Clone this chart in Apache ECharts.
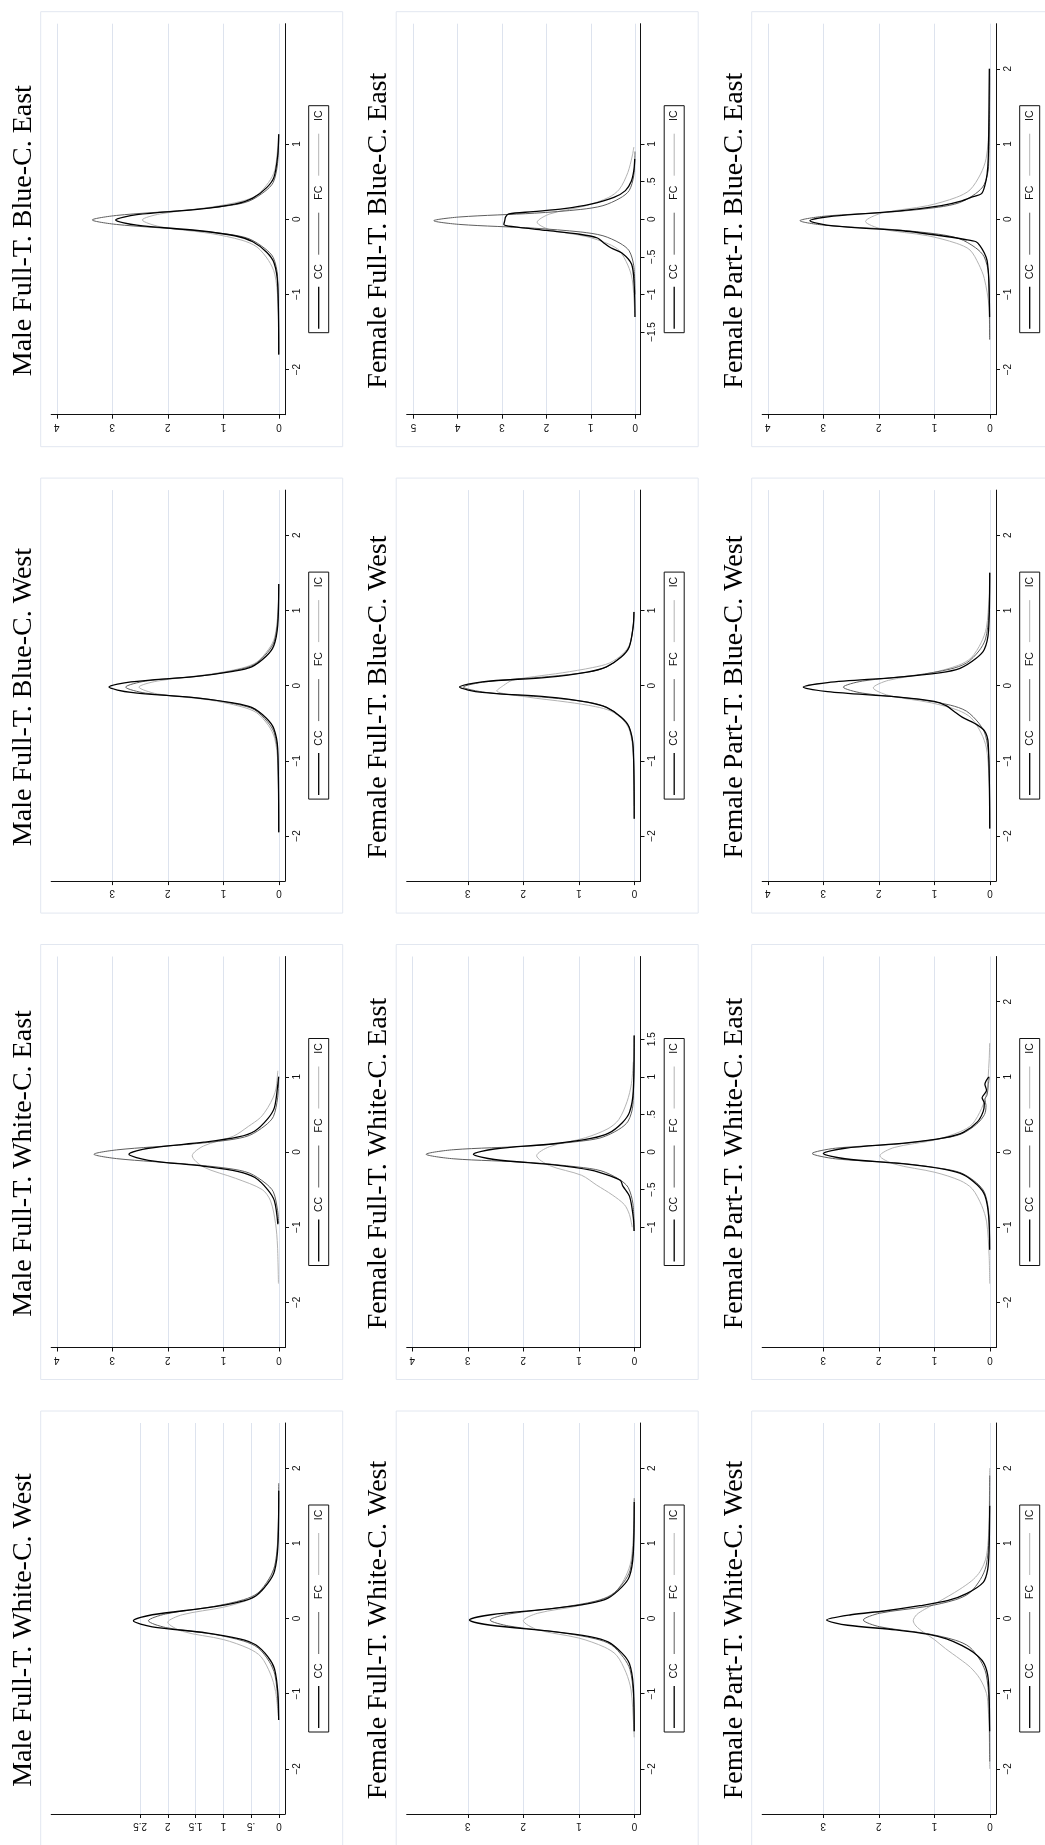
<!DOCTYPE html>
<html>
<head>
<meta charset="utf-8">
<script src="https://cdn.jsdelivr.net/npm/echarts@6/dist/echarts.min.js"></script>
<style>
html,body{margin:0;padding:0;background:#fff;}
#chart{width:1045px;height:1845px;}
</style>
</head>
<body>
<div id="chart"></div>
<script>
// ---------- titles ----------
const titles = [
  'Male Full-T. White-C. West','Male Full-T. White-C. East','Male Full-T. Blue-C. West','Male Full-T. Blue-C. East',
  'Female Full-T. White-C. West','Female Full-T. White-C. East','Female Full-T. Blue-C. West','Female Full-T. Blue-C. East',
  'Female Part-T. White-C. West','Female Part-T. White-C. East','Female Part-T. Blue-C. West','Female Part-T. Blue-C. East'
];
const seriesNames = ['CC','FC','IC'];

// ---------- tick labels (residual axis) ----------
const residTicks = [
  [-2,-1,0,1,2],[-2,-1,0,1],[-2,-1,0,1,2],[-2,-1,0,1],
  [-2,-1,0,1,2],[-1,-0.5,0,0.5,1,1.5],[-2,-1,0,1],[-1.5,-1,-0.5,0,0.5,1],
  [-2,-1,0,1,2],[-2,-1,0,1,2],[-2,-1,0,1,2],[-2,-1,0,1,2]
];
// ---------- tick labels (density axis) ----------
const densTicks = [
  [0,0.5,1,1.5,2,2.5],[0,1,2,3,4],[0,1,2,3],[0,1,2,3,4],
  [0,1,2,3],[0,1,2,3,4],[0,1,2,3],[0,1,2,3,4,5],
  [0,1,2,3],[0,1,2,3],[0,1,2,3,4],[0,1,2,3,4]
];
const densMax = [4.1,4.1,4.1,4.1, 4.1,4.1,4.1,5.15, 4.1,4.1,4.1,4.1];
const densMin = [-0.11,-0.11,-0.11,-0.11, -0.11,-0.11,-0.11,-0.12, -0.11,-0.11,-0.11,-0.11];

// ---------- data: [residual, density] ----------
// Male Full-T. White-C. West
const mwcw_cc = [[-1.35,0.004],[-0.99,0.018],[-0.67,0.079],[-0.51,0.197],[-0.35,0.419],[-0.27,0.707],[-0.19,1.31],[-0.11,2.28],[-0.03,2.62],[0.05,2.28],[0.14,1.31],[0.22,0.707],[0.30,0.419],[0.47,0.197],[0.63,0.079],[0.96,0.018],[1.7,0.003]];
const mwcw_fc = [[-1.35,0.004],[-1.11,0.016],[-0.75,0.071],[-0.57,0.176],[-0.39,0.376],[-0.30,0.635],[-0.21,1.175],[-0.12,2.04],[-0.03,2.35],[0.06,2.04],[0.16,1.175],[0.25,0.635],[0.34,0.376],[0.53,0.176],[0.71,0.071],[1.08,0.016],[1.8,0.003]];
const mwcw_ic = [[-1.3,0.01],[-0.97,0.06],[-0.74,0.15],[-0.51,0.32],[-0.40,0.54],[-0.28,1.0],[-0.17,1.74],[-0.05,2.0],[0.05,1.74],[0.15,1.0],[0.25,0.54],[0.35,0.32],[0.55,0.15],[0.75,0.06],[1.15,0.014],[1.6,0.003]];
// Male Full-T. White-C. East
const mwce_cc = [[-0.96,0.019],[-0.65,0.081],[-0.50,0.203],[-0.34,0.432],[-0.26,0.729],[-0.19,1.35],[-0.11,2.349],[-0.03,2.70],[0.05,2.349],[0.13,1.35],[0.20,0.729],[0.28,0.432],[0.44,0.203],[0.59,0.081],[0.90,0.019],[1.0,0.005]];
const mwce_fc = [[-0.95,0.004],[-0.78,0.023],[-0.53,0.1],[-0.41,0.25],[-0.28,0.533],[-0.22,0.899],[-0.16,1.665],[-0.09,2.897],[-0.03,3.33],[0.03,2.897],[0.10,1.665],[0.16,0.899],[0.22,0.533],[0.35,0.25],[0.47,0.1],[0.72,0.023],[1.0,0.003]];
const mwce_ic = [[-1.75,0.008],[-1.25,0.025],[-0.95,0.06],[-0.65,0.15],[-0.50,0.3],[-0.35,0.78],[-0.20,1.357],[-0.05,1.56],[0.08,1.357],[0.21,0.82],[0.34,0.55],[0.46,0.33],[0.59,0.2],[0.73,0.1],[0.85,0.05],[1.08,0.02]];
// Male Full-T. Blue-C. West
const mbcw_cc = [[-1.95,0.003],[-0.84,0.021],[-0.57,0.092],[-0.43,0.23],[-0.29,0.49],[-0.23,0.826],[-0.16,1.53],[-0.09,2.662],[-0.02,3.06],[0.05,2.662],[0.12,1.53],[0.19,0.826],[0.25,0.49],[0.39,0.23],[0.53,0.092],[0.80,0.021],[1.35,0.003]];
const mbcw_fc = [[-1.95,0.003],[-0.93,0.019],[-0.63,0.083],[-0.48,0.207],[-0.32,0.442],[-0.25,0.745],[-0.17,1.38],[-0.10,2.401],[-0.02,2.76],[0.06,2.401],[0.13,1.38],[0.21,0.745],[0.28,0.442],[0.44,0.207],[0.59,0.083],[0.89,0.019],[1.35,0.003]];
const mbcw_ic = [[-1.95,0.003],[-1.04,0.018],[-0.70,0.076],[-0.53,0.189],[-0.36,0.403],[-0.28,0.68],[-0.19,1.26],[-0.11,2.192],[-0.02,2.52],[0.06,2.192],[0.15,1.26],[0.23,0.68],[0.31,0.403],[0.48,0.189],[0.64,0.076],[0.97,0.018],[1.35,0.003]];
// Male Full-T. Blue-C. East
const mbce_cc = [[-1.8,0.003],[-0.87,0.021],[-0.58,0.088],[-0.44,0.22],[-0.30,0.47],[-0.22,0.794],[-0.15,1.47],[-0.08,2.558],[-0.01,2.94],[0.06,2.558],[0.13,1.47],[0.20,0.794],[0.28,0.47],[0.42,0.22],[0.56,0.088],[0.85,0.021],[1.13,0.003]];
const mbce_fc = [[-1.8,0.003],[-0.76,0.024],[-0.51,0.101],[-0.39,0.252],[-0.26,0.538],[-0.20,0.907],[-0.14,1.68],[-0.07,2.923],[-0.01,3.36],[0.05,2.923],[0.12,1.68],[0.18,0.907],[0.24,0.538],[0.37,0.252],[0.49,0.101],[0.74,0.024],[1.13,0.003]];
const mbce_ic = [[-1.8,0.003],[-1.09,0.017],[-0.73,0.074],[-0.55,0.185],[-0.37,0.394],[-0.28,0.664],[-0.19,1.23],[-0.10,2.14],[-0.01,2.46],[0.07,2.14],[0.16,1.23],[0.24,0.664],[0.32,0.394],[0.49,0.185],[0.65,0.074],[0.98,0.017],[1.13,0.006]];
// Female Full-T. White-C. West
const fwcw_cc = [[-1.5,0.003],[-0.89,0.021],[-0.60,0.089],[-0.46,0.223],[-0.31,0.475],[-0.24,0.802],[-0.17,1.485],[-0.09,2.584],[-0.02,2.97],[0.05,2.584],[0.13,1.485],[0.20,0.802],[0.27,0.475],[0.42,0.223],[0.56,0.089],[0.85,0.021],[1.55,0.003]];
const fwcw_fc = [[-1.5,0.003],[-1.01,0.018],[-0.68,0.078],[-0.52,0.195],[-0.35,0.416],[-0.27,0.702],[-0.19,1.3],[-0.10,2.262],[-0.02,2.6],[0.06,2.262],[0.15,1.3],[0.23,0.702],[0.31,0.416],[0.48,0.195],[0.64,0.078],[0.97,0.018],[1.6,0.003]];
const fwcw_ic = [[-1.58,0.003],[-1.41,0.014],[-0.95,0.06],[-0.72,0.15],[-0.49,0.32],[-0.38,0.54],[-0.26,1.0],[-0.15,1.74],[-0.03,2.0],[0.07,1.74],[0.17,1.0],[0.27,0.54],[0.37,0.32],[0.57,0.15],[0.77,0.06],[1.17,0.014],[1.5,0.003]];
// Female Full-T. White-C. East
const fwce_cc = [[-1.05,0.005],[-0.87,0.02],[-0.59,0.087],[-0.45,0.21],[-0.38,0.25],[-0.31,0.464],[-0.24,0.783],[-0.17,1.45],[-0.10,2.523],[-0.03,2.9],[0.04,2.523],[0.11,1.45],[0.18,0.783],[0.25,0.464],[0.39,0.218],[0.53,0.087],[0.81,0.02],[1.55,0.004]];
const fwce_fc = [[-1.05,0.005],[-0.69,0.026],[-0.47,0.113],[-0.36,0.281],[-0.25,0.6],[-0.20,1.013],[-0.14,1.875],[-0.09,3.263],[-0.03,3.75],[0.03,3.263],[0.08,1.875],[0.14,1.013],[0.19,0.6],[0.30,0.281],[0.41,0.113],[0.63,0.026],[1.55,0.003]];
const fwce_ic = [[-1.0,0.04],[-0.83,0.09],[-0.7,0.18],[-0.57,0.4],[-0.44,0.68],[-0.31,0.95],[-0.18,1.531],[-0.05,1.76],[0.07,1.531],[0.19,0.88],[0.31,0.475],[0.43,0.282],[0.67,0.132],[0.91,0.053],[1.2,0.02]];
// Female Full-T. Blue-C. West
const fbcw_cc = [[-1.77,0.003],[-0.82,0.022],[-0.55,0.095],[-0.42,0.236],[-0.29,0.504],[-0.22,0.851],[-0.15,1.575],[-0.09,2.741],[-0.02,3.15],[0.05,2.741],[0.11,1.575],[0.18,0.851],[0.25,0.504],[0.38,0.236],[0.51,0.095],[0.78,0.022],[0.98,0.008]];
const fbcw_fc = [[-1.77,0.003],[-0.84,0.022],[-0.56,0.092],[-0.43,0.231],[-0.29,0.493],[-0.22,0.832],[-0.16,1.54],[-0.09,2.68],[-0.02,3.08],[0.05,2.68],[0.12,1.54],[0.18,0.832],[0.25,0.493],[0.39,0.231],[0.52,0.092],[0.80,0.022],[0.98,0.006]];
const fbcw_ic = [[-1.6,0.003],[-0.9,0.02],[-0.6,0.085],[-0.46,0.2],[-0.34,0.42],[-0.28,0.7],[-0.22,1.2],[-0.15,1.95],[-0.07,2.48],[0.0,2.36],[0.07,2.2],[0.12,1.8],[0.17,1.3],[0.24,0.75],[0.3,0.45],[0.42,0.21],[0.55,0.085],[0.8,0.02],[0.98,0.008]];
// Female Full-T. Blue-C. East
const fbce_cc = [[-1.3,0.004],[-0.9,0.02],[-0.6,0.08],[-0.45,0.3],[-0.38,0.55],[-0.31,0.72],[-0.25,0.85],[-0.2,1.25],[-0.15,2.0],[-0.1,2.75],[-0.07,2.96],[-0.02,2.94],[0.03,2.92],[0.07,2.85],[0.1,2.3],[0.14,1.6],[0.2,1.0],[0.29,0.48],[0.38,0.22],[0.5,0.09],[0.65,0.03],[0.8,0.01]];
const fbce_fc = [[-1.0,0.004],[-0.62,0.032],[-0.42,0.136],[-0.32,0.341],[-0.22,0.726],[-0.17,1.226],[-0.12,2.27],[-0.07,3.95],[-0.02,4.54],[0.03,3.95],[0.08,2.27],[0.13,1.226],[0.18,0.726],[0.28,0.341],[0.38,0.136],[0.58,0.032],[0.9,0.004]];
const fbce_ic = [[-1.3,0.01],[-1.18,0.015],[-0.80,0.066],[-0.61,0.166],[-0.42,0.354],[-0.33,0.597],[-0.23,1.105],[-0.14,1.923],[-0.04,2.21],[0.07,1.923],[0.18,1.105],[0.29,0.597],[0.40,0.354],[0.62,0.166],[0.84,0.066],[0.96,0.03]];
// Female Part-T. White-C. West
const pwcw_cc = [[-1.5,0.004],[-1.0,0.015],[-0.75,0.04],[-0.58,0.12],[-0.45,0.3],[-0.36,0.5],[-0.27,0.78],[-0.21,1.1],[-0.15,1.7],[-0.09,2.56],[-0.02,2.94],[0.05,2.5],[0.1,1.9],[0.17,1.26],[0.24,0.75],[0.33,0.42],[0.48,0.12],[0.65,0.04],[0.9,0.015],[1.5,0.003]];
const pwcw_fc = [[-1.9,0.003],[-1.10,0.016],[-0.74,0.068],[-0.56,0.171],[-0.38,0.365],[-0.29,0.616],[-0.20,1.14],[-0.11,1.984],[-0.02,2.28],[0.07,1.984],[0.16,1.14],[0.25,0.616],[0.34,0.365],[0.52,0.171],[0.70,0.068],[1.06,0.016],[1.9,0.003]];
const pwcw_ic = [[-2.0,0.003],[-1.5,0.012],[-1.2,0.03],[-1.0,0.06],[-0.8,0.18],[-0.65,0.35],[-0.54,0.54],[-0.4,0.8],[-0.28,1.0],[-0.18,1.2],[-0.1,1.33],[-0.03,1.38],[0.05,1.32],[0.12,1.18],[0.2,0.98],[0.3,0.74],[0.39,0.54],[0.5,0.33],[0.6,0.2],[0.72,0.11],[0.84,0.06],[1.1,0.025],[1.5,0.01],[2.0,0.003]];
// Female Part-T. White-C. East
const pwce_cc = [[-1.3,0.005],[-0.86,0.021],[-0.58,0.09],[-0.44,0.225],[-0.30,0.48],[-0.23,0.81],[-0.16,1.5],[-0.09,2.61],[-0.02,3.0],[0.05,2.61],[0.12,1.5],[0.19,0.81],[0.26,0.48],[0.40,0.225],[0.54,0.12],[0.65,0.1],[0.72,0.14],[0.82,0.06],[0.9,0.09],[1.0,0.02]];
const pwce_fc = [[-1.3,0.004],[-0.80,0.022],[-0.54,0.096],[-0.41,0.24],[-0.28,0.512],[-0.22,0.864],[-0.15,1.6],[-0.09,2.784],[-0.02,3.2],[0.05,2.784],[0.11,1.6],[0.18,0.864],[0.24,0.512],[0.37,0.24],[0.50,0.096],[0.62,0.07],[0.7,0.09],[0.76,0.05],[0.88,0.03],[1.0,0.01]];
const pwce_ic = [[-1.75,0.004],[-1.37,0.014],[-0.93,0.059],[-0.71,0.149],[-0.49,0.317],[-0.38,0.535],[-0.27,0.99],[-0.16,1.723],[-0.05,1.98],[0.06,1.723],[0.16,0.99],[0.27,0.535],[0.37,0.317],[0.58,0.149],[0.79,0.059],[1.21,0.014],[1.45,0.004]];
// Female Part-T. Blue-C. West
const pbcw_cc = [[-1.9,0.003],[-0.77,0.03],[-0.6,0.1],[-0.5,0.28],[-0.42,0.5],[-0.34,0.65],[-0.27,0.78],[-0.21,1.0],[-0.15,1.68],[-0.08,2.923],[-0.02,3.36],[0.04,2.923],[0.11,1.68],[0.17,0.907],[0.23,0.538],[0.36,0.252],[0.48,0.101],[0.73,0.024],[1.5,0.003]];
const pbcw_fc = [[-1.9,0.003],[-0.98,0.018],[-0.66,0.079],[-0.50,0.198],[-0.34,0.422],[-0.26,0.713],[-0.18,1.32],[-0.10,2.297],[-0.02,2.64],[0.06,2.297],[0.14,1.32],[0.22,0.713],[0.30,0.422],[0.46,0.198],[0.62,0.079],[0.94,0.018],[1.5,0.003]];
const pbcw_ic = [[-1.9,0.003],[-1.23,0.015],[-0.83,0.063],[-0.63,0.158],[-0.43,0.336],[-0.33,0.567],[-0.23,1.05],[-0.13,1.827],[-0.03,2.1],[0.07,1.827],[0.17,1.05],[0.27,0.567],[0.37,0.336],[0.57,0.158],[0.77,0.063],[1.17,0.015],[1.5,0.004]];
// Female Part-T. Blue-C. East
const pbce_cc = [[-1.3,0.005],[-0.8,0.02],[-0.55,0.05],[-0.45,0.1],[-0.35,0.18],[-0.3,0.25],[-0.27,0.45],[-0.22,0.875],[-0.15,1.62],[-0.09,2.82],[-0.02,3.24],[0.04,2.82],[0.11,1.62],[0.18,0.875],[0.24,0.52],[0.3,0.3],[0.34,0.15],[0.45,0.09],[0.6,0.05],[0.8,0.03],[1.2,0.02],[1.6,0.015],[2.0,0.01]];
const pbce_fc = [[-1.6,0.004],[-0.74,0.024],[-0.50,0.103],[-0.38,0.257],[-0.26,0.547],[-0.20,0.923],[-0.14,1.71],[-0.08,2.975],[-0.02,3.42],[0.04,2.975],[0.10,1.71],[0.16,0.923],[0.22,0.547],[0.34,0.257],[0.46,0.103],[0.70,0.024],[2.0,0.003]];
const pbce_ic = [[-1.6,0.005],[-1.17,0.016],[-0.79,0.1],[-0.60,0.2],[-0.41,0.358],[-0.32,0.605],[-0.22,1.12],[-0.13,1.949],[-0.03,2.24],[0.08,1.949],[0.18,1.12],[0.29,0.605],[0.39,0.358],[0.60,0.168],[0.81,0.067],[1.23,0.016],[1.9,0.004]];

const panelData = [
  [mwcw_cc,mwcw_fc,mwcw_ic],[mwce_cc,mwce_fc,mwce_ic],[mbcw_cc,mbcw_fc,mbcw_ic],[mbce_cc,mbce_fc,mbce_ic],
  [fwcw_cc,fwcw_fc,fwcw_ic],[fwce_cc,fwce_fc,fwce_ic],[fbcw_cc,fbcw_fc,fbcw_ic],[fbce_cc,fbce_fc,fbce_ic],
  [pwcw_cc,pwcw_fc,pwcw_ic],[pwce_cc,pwce_fc,pwce_ic],[pbcw_cc,pbcw_fc,pbcw_ic],[pbce_cc,pbce_fc,pbce_ic]
];

// ---------- layout / style ----------
const colX = [40.7, 396.2, 751.7];
const rowY = [1411, 944.5, 478.1, 11.7]; // panel k within a column: 0=West WC (bottom) ... 3 = BC East (top)
const BOX_W = 302, BOX_H = 435;
const lineColors = ['#000000','#5e5e5e','#b3b3b3'];
const lineWidths = [1.3, 1.0, 1.0];
const gridColor = '#dde3ee';
const boxColor = '#e2e7f0';
const sans = '"Liberation Sans", Arial, Helvetica, sans-serif';
const serif = '"Liberation Serif", "Times New Roman", serif';

function fmt(v){
  let s = String(Math.abs(v));
  if (s.indexOf('0.') === 0) s = s.slice(1);
  return (v < 0 ? '\u2212' : '') + s;
}

const grids = [], xAxes = [], yAxes = [], series = [], graphics = [];

for (let p = 0; p < 12; p++) {
  const col = Math.floor(p / 4), k = p % 4;
  const bx = colX[col], by = rowY[k];

  grids.push({left: bx + 10.5, top: by + 12, width: 233.8, height: 391, containLabel: false});

  xAxes.push({
    gridIndex: p, type: 'value', inverse: true, position: 'bottom',
    min: densMin[p], max: densMax[p],
    axisLine: {show: true, onZero: false, lineStyle: {color: '#111', width: 1}},
    axisTick: {show: true, length: 4, customValues: densTicks[p], lineStyle: {color: '#111', width: 1}},
    axisLabel: {show: true, customValues: densTicks[p], rotate: 180, margin: 7, fontSize: 10,
      fontFamily: sans, color: '#111', formatter: fmt},
    splitLine: {show: true, lineStyle: {color: gridColor, width: 1}}
  });
  yAxes.push({
    gridIndex: p, type: 'value', position: 'right',
    min: -2.6, max: 2.6,
    axisLine: {show: true, onZero: false, lineStyle: {color: '#111', width: 1}},
    axisTick: {show: true, length: 4, customValues: residTicks[p], lineStyle: {color: '#111', width: 1}},
    axisLabel: {show: true, customValues: residTicks[p], rotate: 90, margin: 7, fontSize: 10,
      fontFamily: sans, color: '#111', formatter: fmt},
    splitLine: {show: false}
  });

  // draw IC first, then FC, then CC on top
  for (let s = 2; s >= 0; s--) {
    series.push({
      name: seriesNames[s], type: 'line', xAxisIndex: p, yAxisIndex: p,
      data: panelData[p][s].map(function(q){ return [q[1], q[0]]; }),
      showSymbol: false, symbol: 'none', smooth: 0.3,
      lineStyle: {color: lineColors[s], width: lineWidths[s]},
      z: 3 + (2 - s), silent: true, animation: false
    });
  }

  // outer box
  graphics.push({type: 'rect', z: 0, silent: true,
    shape: {x: bx, y: by, width: BOX_W, height: BOX_H},
    style: {fill: 'none', stroke: boxColor, lineWidth: 1}});
  // title (rotated)
  graphics.push({type: 'text', x: bx - 17.5, y: by + 219, rotation: Math.PI / 2, z: 10, silent: true,
    style: {text: titles[p], fontSize: 28, fontFamily: serif, fill: '#000',
      align: 'center', verticalAlign: 'middle', textAlign: 'center', textVerticalAlign: 'middle'}});
  // legend (rotated group)
  const items = [];
  items.push({type: 'rect', shape: {x: 0, y: 0, width: 227, height: 20},
    style: {fill: '#fff', stroke: '#111', lineWidth: 1}});
  const keyStart = [4, 78, 157], textPos = [61, 140, 217];
  for (let s = 0; s < 3; s++) {
    items.push({type: 'line', shape: {x1: keyStart[s], y1: 10, x2: keyStart[s] + 42, y2: 10},
      style: {stroke: lineColors[s], lineWidth: lineWidths[s]}});
    items.push({type: 'text', x: textPos[s], y: 10,
      style: {text: seriesNames[s], fontSize: 10.5, fontFamily: sans, fill: '#111',
        align: 'center', verticalAlign: 'middle', textAlign: 'center', textVerticalAlign: 'middle'}});
  }
  graphics.push({type: 'group', x: bx + 268, y: by + 321, rotation: Math.PI / 2, z: 10, silent: true,
    children: items});
}

const chart = echarts.init(document.getElementById('chart'), null, {renderer: 'canvas'});
chart.setOption({
  backgroundColor: '#ffffff',
  animation: false,
  grid: grids,
  xAxis: xAxes,
  yAxis: yAxes,
  series: series,
  graphic: {elements: graphics}
});
</script>
</body>
</html>
